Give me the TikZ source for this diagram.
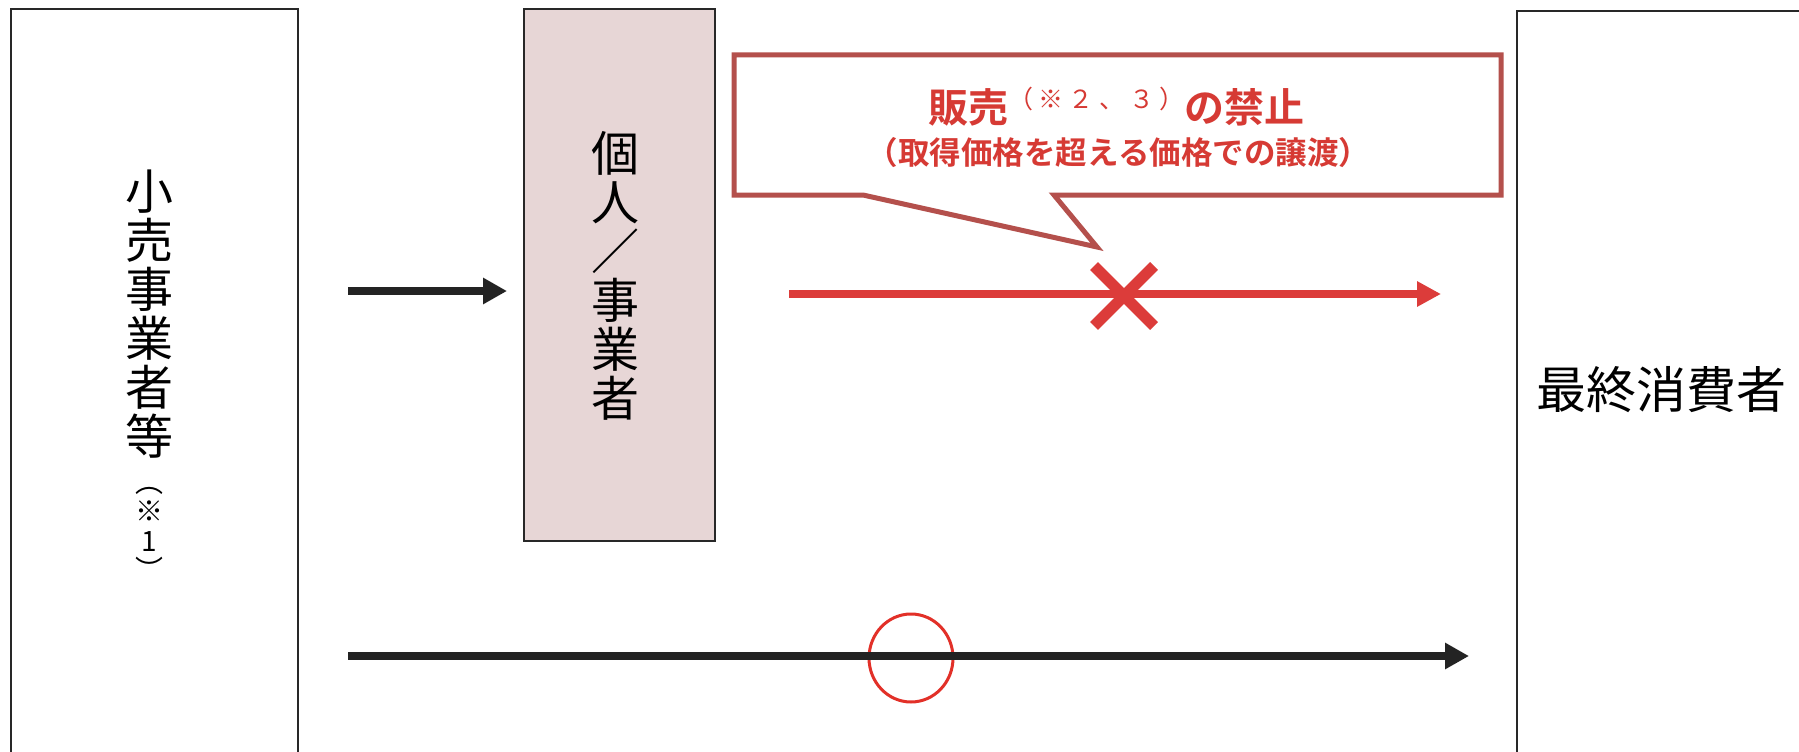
\documentclass[tikz,border=0pt]{standalone}
\usepackage{fontspec}
\newfontfamily\jp{Noto Sans CJK JP}
\newfontfamily\jpb{Noto Sans CJK JP Bold}
\usetikzlibrary{arrows.meta,shapes.geometric,calc}
\definecolor{pinkfill}{RGB}{231,214,214}
\definecolor{boxline}{RGB}{40,40,40}
\definecolor{callred}{RGB}{180,80,76}
\definecolor{txtred}{RGB}{214,58,52}
\definecolor{arrred}{RGB}{220,60,58}
\definecolor{arrblk}{RGB}{35,35,35}
\definecolor{okred}{RGB}{226,48,40}
\begin{document}
\begin{tikzpicture}[x=1pt,y=-1pt,
  framebox/.style={draw=boxline,line width=2pt,inner sep=0pt},
  vtext/.style={align=center,inner sep=0pt,text=black},
  blkarrow/.style={draw=arrblk,line width=8pt,-{Triangle[length=24pt,width=25pt]}},
  redarrow/.style={draw=arrred,line width=8pt,-{Triangle[length=24pt,width=24pt]}},
  crossline/.style={draw=arrred,line width=11pt},
  calloutline/.style={draw=callred,line width=5pt,fill=white,line join=miter}
]
\useasboundingbox (0,0) rectangle (1799,752);
\clip (0,0) rectangle (1799,752);
% boxes
\node[framebox,minimum width=287pt,minimum height=761pt] (retail) at (154.5,389.5) {};
\node[framebox,fill=pinkfill,minimum width=191pt,minimum height=532pt] (person) at (619.5,275) {};
\node[framebox,minimum width=300pt,minimum height=760pt] (consumer) at (1667,391) {};
% texts
\node[vtext,font={\jp\fontsize{48}{49}\selectfont}] (retailtxt) at (149,314) {小\\売\\事\\業\\者\\等};
\node[vtext,font={\jp\fontsize{28}{29.5}\selectfont}] (note1) at (149,534) {︵\\※\\1\\︶};
\node[vtext,font={\jp\fontsize{48}{49}\selectfont}] (persontxt) at (615,275.5) {個\\人\\／\\事\\業\\者};
\node[vtext,font={\jp\fontsize{50}{50}\selectfont}] (consumertxt) at (1661,390) {最終消費者};
% callout
\draw[calloutline] (734,55) -- (1501,55) -- (1501,195) -- (1054,195) -- (1097,247) -- (863,195) -- (734,195) -- cycle;
\node[inner sep=0pt,text=txtred] (ban) at (1116.5,107) {{\jpb\fontsize{40}{40}\selectfont 販売}\raisebox{14pt}{\jp\fontsize{25}{25}\selectfont\makebox[176pt][s]{（\hfill※\hfill２\hfill、\hfill３\hfill）}}{\jpb\fontsize{40}{40}\selectfont の禁止}};
\node[inner sep=0pt,text=txtred,font={\jpb\fontsize{31.5}{31.5}\selectfont}] (bandetail) at (1118.5,153) {（取得価格を超える価格での譲渡）};
% arrows
\coordinate (a1s) at (348,291);
\coordinate (a1e) at (507,291);
\draw[blkarrow] (a1s) -- (a1e);
\coordinate (r1s) at (789,294);
\coordinate (r1e) at (1441,294);
\draw[redarrow] (r1s) -- (r1e);
\coordinate (xc) at (1124,296);
\draw[crossline] ($(xc)+(-30,-30)$) -- ($(xc)+(30,30)$);
\draw[crossline] ($(xc)+(30,-30)$) -- ($(xc)+(-30,30)$);
\node[draw=okred,line width=3pt,ellipse,minimum width=84pt,minimum height=88pt,inner sep=0pt] (ok) at (911,658) {};
\coordinate (b1s) at (348,656);
\coordinate (b1e) at (1469,656);
\draw[blkarrow] (b1s) -- (b1e);
\end{tikzpicture}
\end{document}
